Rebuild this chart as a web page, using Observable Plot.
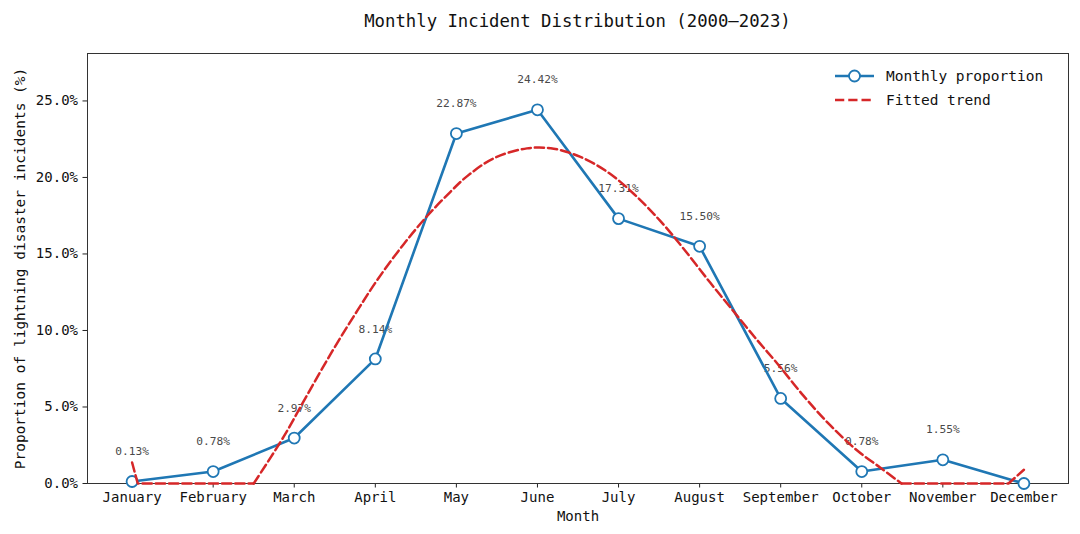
<!DOCTYPE html>
<html>
<head>
<meta charset="utf-8">
<script src="https://cdn.jsdelivr.net/npm/d3@7"></script>
<script src="https://cdn.jsdelivr.net/npm/@observablehq/plot@0.6"></script>
<style>
  html, body { margin: 0; padding: 0; background: #fff; }
  #wrap { position: relative; width: 1080px; height: 534px; font-family: "DejaVu Sans Mono", monospace; }
  #title { position: absolute; left: 87px; width: 981px; top: 9px; height: 24px; line-height: 24px;
           text-align: center; font-size: 17.3px; color: #111; }
  #chart { position: absolute; left: 0; top: 40px; }
</style>
</head>
<body>
<div id="wrap">
  <div id="title">Monthly Incident Distribution (2000–2023)</div>
  <div id="chart"></div>
</div>
<script>
// Month names used as x tick labels (index 0 = January)
const months = ["January", "February", "March", "April", "May", "June",
                "July", "August", "September", "October", "November", "December"];

// Share of lightning disaster incidents per month, in percent
const monthlyShare = [0.13, 0.78, 2.97, 8.14, 22.87, 24.42, 17.31, 15.50, 5.56, 0.78, 1.55, 0.00];

// Fitted trend (clipped at zero), sampled along the month axis
const trendHeadMonth = [0, 0.07, 1.5];
const trendHeadShare = [1.37, 0, 0];
const trendBodyMonth = [1.5, 1.87, 2.16, 2.49, 2.78, 3.02, 3.35, 3.64, 3.93, 4.13, 4.46, 4.87,
                        5.2, 5.53, 5.86, 6.19, 6.52, 6.8, 7.13, 7.38, 7.71, 7.96, 8.28, 8.61,
                        8.94, 9.23, 9.49];
const trendBodyShare = [0, 3.06, 5.79, 8.83, 11.31, 13.27, 15.64, 17.48, 19.08, 20.07, 21.25, 21.9,
                        21.88, 21.34, 20.37, 18.92, 17.13, 15.36, 13.13, 11.5, 9.37, 7.83, 5.74, 3.81,
                        2.17, 1.03, 0];
const trendTailMonth = [9.49, 10.81, 11];
const trendTailShare = [0, 0, 0.9];

const yTicks = [0, 5, 10, 15, 20, 25];

const monthly = monthlyShare.map((v, i) => ({i, v}));
const head = trendHeadMonth.map((m, k) => ({m, v: trendHeadShare[k], seg: "head"}));
const tail = trendTailMonth.map((m, k) => ({m, v: trendTailShare[k], seg: "tail"}));
const body = trendBodyMonth.map((m, k) => ({m, v: trendBodyShare[k]}));

const blue = "#1f77b4";
const red = "#d62728";
const dash = "9.25,4";

const plot = Plot.plot({
  width: 1080,
  height: 494,
  marginTop: 13,
  marginBottom: 51,
  marginLeft: 87,
  marginRight: 12,
  style: {fontFamily: "DejaVu Sans Mono, monospace", fontSize: "14px", color: "#111", background: "#fff"},
  x: {domain: [-0.55, 11.55]},
  y: {domain: [0, 28.1]},
  marks: [
    Plot.axisX({ticks: d3.range(12), tickFormat: i => months[i], tickSize: 4.5, tickPadding: 4,
                label: null, stroke: "#222"}),
    Plot.axisY({ticks: yTicks, tickFormat: d => d.toFixed(1) + "%", tickSize: 4.5, tickPadding: 5,
                label: null, stroke: "#222"}),
    Plot.frame({stroke: "#333", strokeWidth: 1}),
    Plot.text(["Month"], {text: d => d, frameAnchor: "bottom", dy: 33, lineAnchor: "middle",
              textAnchor: "middle", fontSize: 14}),
    Plot.text(["Proportion of lightning disaster incidents (%)"],
              {text: d => d, frameAnchor: "left", dx: -67, rotate: -90, textAnchor: "middle",
               lineAnchor: "middle", fontSize: 14.5}),
    // value labels above each month
    Plot.text(monthly.filter(d => d.v > 0), {x: "i", y: "v", text: d => d.v.toFixed(2) + "%",
              dy: -30, fontSize: 11.2, fill: "#4a4a4a"}),
    // monthly series
    Plot.line(monthly, {x: "i", y: "v", stroke: blue, strokeWidth: 2.6}),
    Plot.dot(monthly, {x: "i", y: "v", r: 5.5, fill: "#fff", stroke: blue, strokeWidth: 1.8}),
    // fitted trend
    Plot.line(head.concat(tail), {x: "m", y: "v", z: "seg", stroke: red, strokeWidth: 2.5,
              strokeDasharray: dash}),
    Plot.line(body, {x: "m", y: "v", stroke: red, strokeWidth: 2.5, strokeDasharray: dash,
              curve: "catmull-rom"})
  ]
});

document.getElementById("chart").appendChild(plot);

// legend in the upper right corner of the plot area
const svg = d3.select(plot);
const lg = svg.append("g")
  .attr("font-family", "DejaVu Sans Mono, monospace")
  .attr("font-size", 14.5)
  .attr("text-anchor", "start");
lg.append("line").attr("x1", 835).attr("x2", 874).attr("y1", 36).attr("y2", 36)
  .attr("stroke", blue).attr("stroke-width", 2.6);
lg.append("circle").attr("cx", 854.5).attr("cy", 36).attr("r", 5.5)
  .attr("fill", "#fff").attr("stroke", blue).attr("stroke-width", 1.8);
lg.append("text").attr("x", 886).attr("y", 36).attr("dy", "0.35em").attr("fill", "#111")
  .attr("text-anchor", "start").text("Monthly proportion");
lg.append("line").attr("x1", 835).attr("x2", 874).attr("y1", 60).attr("y2", 60)
  .attr("stroke", red).attr("stroke-width", 2.5).attr("stroke-dasharray", dash);
lg.append("text").attr("x", 886).attr("y", 60).attr("dy", "0.35em").attr("fill", "#111")
  .attr("text-anchor", "start").text("Fitted trend");
</script>
</body>
</html>
